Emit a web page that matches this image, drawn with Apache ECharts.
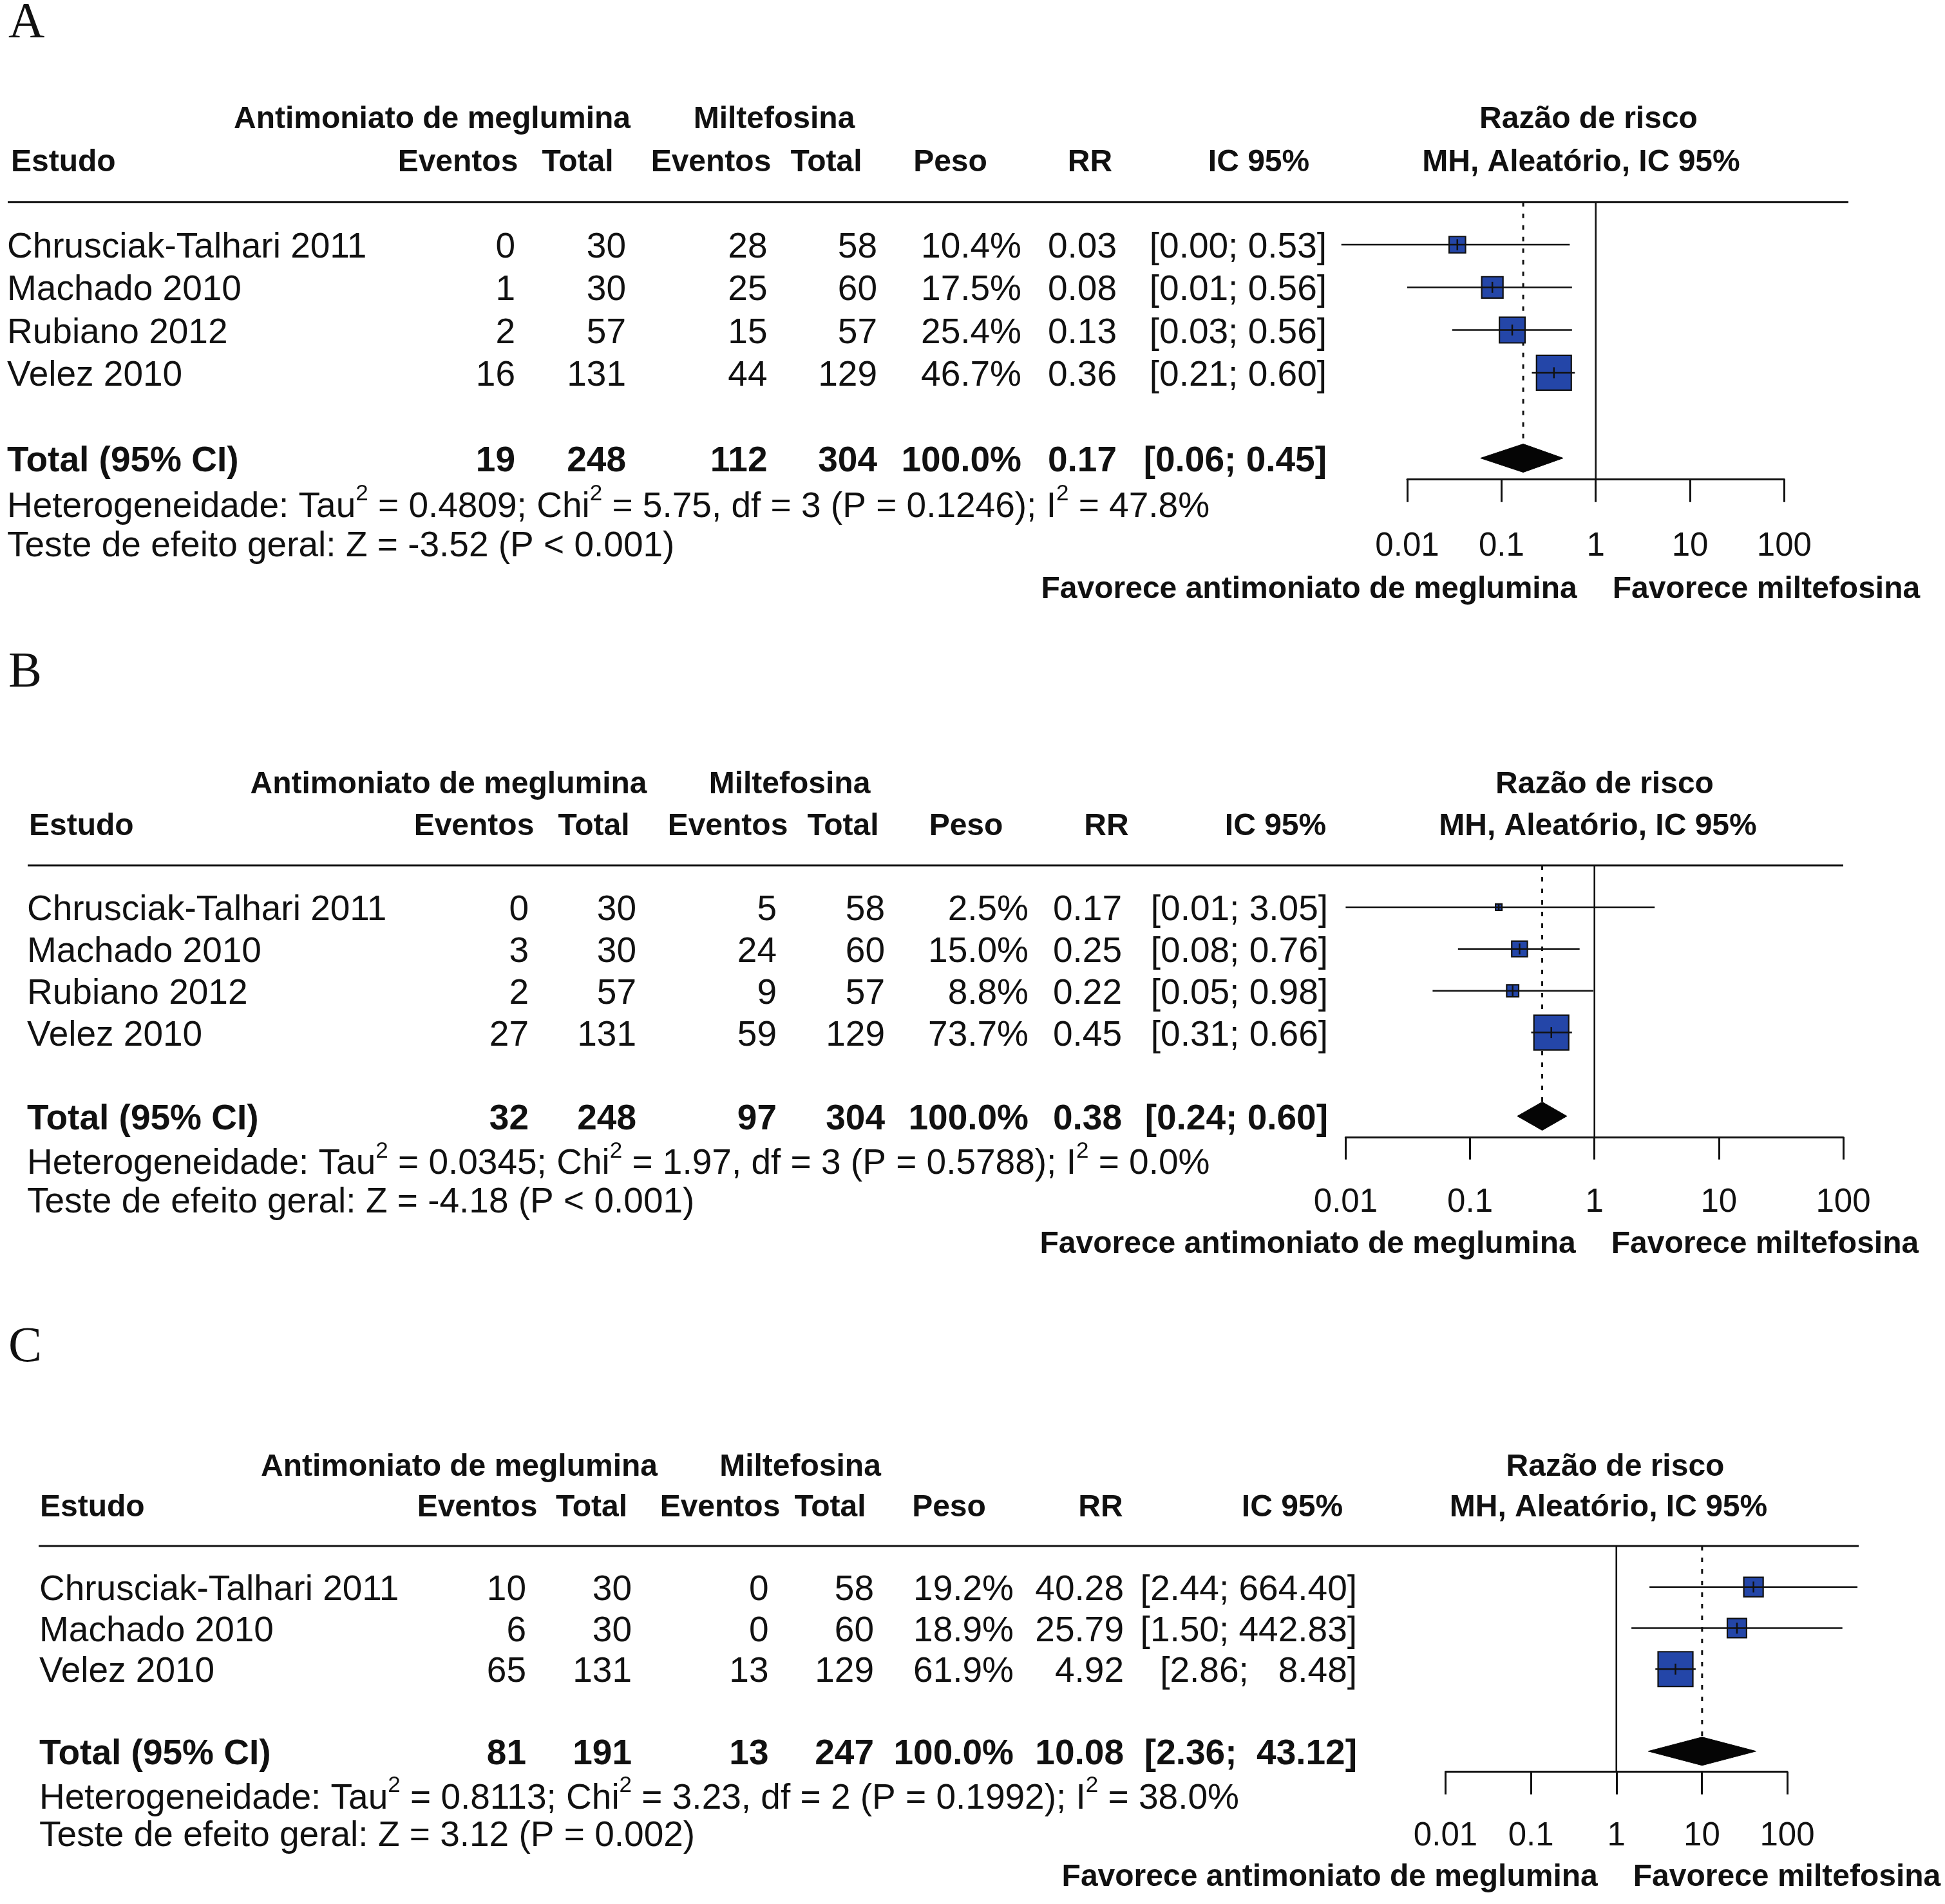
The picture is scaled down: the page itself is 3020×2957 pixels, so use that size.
<!DOCTYPE html>
<html>
<head>
<meta charset="utf-8">
<script src="https://cdn.jsdelivr.net/npm/echarts@6/dist/echarts.min.js"></script>
<style>
html,body{margin:0;padding:0;background:#ffffff;}
#chart{width:3020px;height:2957px;}
</style>
</head>
<body>
<div id="chart"></div>
<script>
// ================= DATA =================
// Panel A
const studiesA   = ['Chrusciak-Talhari 2011', 'Machado 2010', 'Rubiano 2012', 'Velez 2010'];
const eventsAntA = [0, 1, 2, 16];
const totalAntA  = [30, 30, 57, 131];
const eventsMilA = [28, 25, 15, 44];
const totalMilA  = [58, 60, 57, 129];
const weightA    = [10.4, 17.5, 25.4, 46.7];
const rrA        = [0.034, 0.08, 0.13, 0.36];
const lowerA     = [0.002, 0.01, 0.03, 0.21];
const upperA     = [0.53, 0.56, 0.56, 0.60];
const pooledA    = [0.17, 0.06, 0.45];          // RR, lower, upper
const sumsA      = [19, 248, 112, 304];
const hetA       = ['0.4809', '5.75', '3', '0.1246', '47.8%'];  // Tau2, Chi2, df, P, I2
const testA      = ['-3.52', 'P < 0.001'];

// Panel B
const studiesB   = ['Chrusciak-Talhari 2011', 'Machado 2010', 'Rubiano 2012', 'Velez 2010'];
const eventsAntB = [0, 3, 2, 27];
const totalAntB  = [30, 30, 57, 131];
const eventsMilB = [5, 24, 9, 59];
const totalMilB  = [58, 60, 57, 129];
const weightB    = [2.5, 15.0, 8.8, 73.7];
const rrB        = [0.17, 0.25, 0.22, 0.45];
const lowerB     = [0.01, 0.08, 0.05, 0.31];
const upperB     = [3.05, 0.76, 0.98, 0.66];
const pooledB    = [0.38, 0.24, 0.60];
const sumsB      = [32, 248, 97, 304];
const hetB       = ['0.0345', '1.97', '3', '0.5788', '0.0%'];
const testB      = ['-4.18', 'P < 0.001'];

// Panel C
const studiesC   = ['Chrusciak-Talhari 2011', 'Machado 2010', 'Velez 2010'];
const eventsAntC = [10, 6, 65];
const totalAntC  = [30, 30, 131];
const eventsMilC = [0, 0, 13];
const totalMilC  = [58, 60, 129];
const weightC    = [19.2, 18.9, 61.9];
const rrC        = [40.28, 25.79, 4.92];
const lowerC     = [2.44, 1.50, 2.86];
const upperC     = [664.40, 442.83, 8.48];
const pooledC    = [10.08, 2.36, 43.12];
const sumsC      = [81, 191, 13, 247];
const hetC       = ['0.8113', '3.23', '2', '0.1992', '38.0%'];
const testC      = ['3.12', 'P = 0.002'];

// Tick labels and header texts
const tickLabels  = ['0.01', '0.1', '1', '10', '100'];
const colHeaders  = ['Eventos', 'Total', 'Eventos', 'Total', 'Peso', 'RR', 'IC 95%'];
const groupTitles = ['Antimoniato de meglumina', 'Miltefosina'];
const riskTitles  = ['Razão de risco', 'MH, Aleatório, IC 95%'];
const favourTexts = ['Favorece antimoniato de meglumina', 'Favorece miltefosina'];

// ================= LAYOUT (pixels) =================
const layoutA = {letter:'A', letterX:13, letterY:37, top:313.7, row:66.3, left:2185, right:2770.4,
  nameX:11, studyHdrX:17, grpHdr:[671, 1202], riskHdr:[2466.5, 2455],
  colHdr:[711, 897, 1104, 1283, 1475.5, 1692.5, 1954.5],
  colRight:[800, 972, 1191.5, 1362, 1586, 1734, 2060], sep:[12, 2870]};
const layoutB = {letter:'B', letterX:13, letterY:1046, top:1344, row:64.9, left:2089.4, right:2862,
  nameX:42, studyHdrX:45, grpHdr:[696.5, 1226], riskHdr:[2491.5, 2481],
  colHdr:[736, 922, 1130, 1309, 1500, 1718, 1980.5],
  colRight:[821, 988, 1206, 1374, 1597, 1742, 2062], sep:[43, 2862]};
const layoutC = {letter:'C', letterX:13, letterY:2094, top:2401, row:63.75, left:2244.5, right:2775,
  nameX:61, studyHdrX:62, grpHdr:[713, 1242.5], riskHdr:[2508, 2497.5],
  colHdr:[741, 918.5, 1118, 1289, 1473.5, 1709, 2006.5],
  colRight:[817, 981, 1193.5, 1357, 1574, 1745, 2107], sep:[60, 2886]};
const TEXT_DY = 5;   // text centre offset below row line

const panels = [
  {lay:layoutA, studies:studiesA, evA:eventsAntA, totA:totalAntA, evM:eventsMilA, totM:totalMilA,
   w:weightA, rr:rrA, lo:lowerA, hi:upperA, pooled:pooledA, sums:sumsA, het:hetA, test:testA},
  {lay:layoutB, studies:studiesB, evA:eventsAntB, totA:totalAntB, evM:eventsMilB, totM:totalMilB,
   w:weightB, rr:rrB, lo:lowerB, hi:upperB, pooled:pooledB, sums:sumsB, het:hetB, test:testB},
  {lay:layoutC, studies:studiesC, evA:eventsAntC, totA:totalAntC, evM:eventsMilC, totM:totalMilC,
   w:weightC, rr:rrC, lo:lowerC, hi:upperC, pooled:pooledC, sums:sumsC, het:hetC, test:testC}
];

// ================= STYLE =================
const FAM = '"Liberation Sans", Arial, Helvetica, sans-serif';
const fReg = '55px ' + FAM;
const fBold55 = 'bold 55px ' + FAM;
const fBold48 = 'bold 48px ' + FAM;
const fSerif = '78px "Liberation Serif", "Times New Roman", serif';
const INK = '#111111';
const BOX = '#2446A8';

function T(x, y, s, font, align, rich) {
  const st = {text: s, font: font, fill: INK, align: align, textAlign: align,
              verticalAlign: 'middle', textVerticalAlign: 'middle'};
  if (rich) st.rich = rich;
  return {type: 'text', x: x, y: y, style: st, silent: true};
}

function ciText(lo, hi, wLo, wHi) {
  return '[' + lo.toFixed(2).padStart(wLo, ' ') + '; ' + hi.toFixed(2).padStart(wHi, ' ') + ']';
}

const option = {
  animation: false,
  backgroundColor: '#ffffff',
  grid: [], xAxis: [], yAxis: [], series: []
};

panels.forEach(function (P, i) {
  const L = P.lay;
  const n = P.studies.length;
  const yMax = n + 2.5;
  const wMax = Math.max.apply(null, P.w);

  option.grid.push({left: L.left, top: L.top, width: L.right - L.left, height: yMax * L.row,
                    containLabel: false, show: false});
  option.xAxis.push({
    type: 'log', logBase: 10, min: 0.01, max: 100, gridIndex: i,
    axisLine: {show: true, onZero: false, lineStyle: {color: INK, width: 3}},
    axisTick: {show: true, length: 35, lineStyle: {color: INK, width: 3}},
    minorTick: {show: false},
    splitLine: {show: false},
    axisLabel: {
      margin: 1.5 * L.row + TEXT_DY, fontSize: 51, fontFamily: FAM, color: INK, verticalAlign: 'middle',
      formatter: function (v) { return tickLabels[Math.round(Math.log10(v)) + 2]; }
    }
  });
  option.yAxis.push({type: 'value', gridIndex: i, min: 0, max: yMax, inverse: true, show: false});

  // Reference lines and pooled diamond
  option.series.push({
    type: 'custom', xAxisIndex: i, yAxisIndex: i, clip: false, silent: true, z: 2,
    data: [[P.pooled[0], n + 2, P.pooled[1], P.pooled[2]]],
    encode: {x: 0, y: 1},
    renderItem: function (params, api) {
      const rr = api.value(0), row = api.value(1), lo = api.value(2), hi = api.value(3);
      const c = api.coord([rr, row]);
      const l = api.coord([lo, row]);
      const h = api.coord([hi, row]);
      const top1 = api.coord([1, 0]);
      const bot1 = api.coord([1, yMax]);
      const topR = api.coord([rr, 0]);
      const half = 22;
      return {type: 'group', children: [
        {type: 'line', shape: {x1: top1[0], y1: top1[1], x2: bot1[0], y2: bot1[1]},
         style: {stroke: INK, lineWidth: 2.6}},
        {type: 'line', shape: {x1: topR[0], y1: topR[1], x2: c[0], y2: c[1] - half},
         style: {stroke: INK, lineWidth: 3, lineDash: [7, 11]}},
        {type: 'polygon', shape: {points: [[l[0], c[1]], [c[0], c[1] - half], [h[0], c[1]], [c[0], c[1] + half]]},
         style: {fill: '#050505', stroke: '#050505', lineWidth: 1}}
      ]};
    }
  });

  // Study boxes and confidence intervals
  option.series.push({
    type: 'custom', xAxisIndex: i, yAxisIndex: i, clip: false, silent: true, z: 3,
    data: P.rr.map(function (r, k) { return [r, k + 1, P.lo[k], P.hi[k], P.w[k]]; }),
    encode: {x: 0, y: 1},
    renderItem: function (params, api) {
      const rr = api.value(0), row = api.value(1), lo = api.value(2), hi = api.value(3), w = api.value(4);
      const c = api.coord([rr, row]);
      const l = api.coord([lo, row]);
      const h = api.coord([hi, row]);
      const s = 54 * Math.sqrt(w / wMax);
      const t = Math.min(17, s) / 2;
      return {type: 'group', children: [
        {type: 'rect', shape: {x: c[0] - s / 2, y: c[1] - s / 2, width: s, height: s},
         style: {fill: BOX, stroke: INK, lineWidth: 2.2}},
        {type: 'line', shape: {x1: l[0], y1: l[1], x2: h[0], y2: h[1]},
         style: {stroke: INK, lineWidth: 2.5}},
        {type: 'line', shape: {x1: c[0], y1: c[1] - t, x2: c[0], y2: c[1] + t},
         style: {stroke: INK, lineWidth: 2.5}}
      ]};
    }
  });

  // Table text
  option.series.push({
    type: 'custom', xAxisIndex: i, yAxisIndex: i, clip: false, silent: true, z: 4,
    data: [[1, 0]],
    encode: {x: 0, y: 1},
    renderItem: function (params, api) {
      const Y = function (r) { return api.coord([1, r])[1] + TEXT_DY; };
      const x1 = api.coord([1, 0])[0];
      const ch = [];
      ch.push(T(L.letterX, L.letterY, L.letter, fSerif, 'left'));
      ch.push(T(L.grpHdr[0], Y(-2), groupTitles[0], fBold48, 'center'));
      ch.push(T(L.grpHdr[1], Y(-2), groupTitles[1], fBold48, 'center'));
      ch.push(T(L.riskHdr[0], Y(-2), riskTitles[0], fBold48, 'center'));
      ch.push(T(L.studyHdrX, Y(-1), 'Estudo', fBold48, 'left'));
      colHeaders.forEach(function (hd, k) { ch.push(T(L.colHdr[k], Y(-1), hd, fBold48, 'center')); });
      ch.push(T(L.riskHdr[1], Y(-1), riskTitles[1], fBold48, 'center'));
      const ySep = api.coord([1, 0])[1];
      ch.push({type: 'line', shape: {x1: L.sep[0], y1: ySep, x2: L.sep[1], y2: ySep},
               style: {stroke: INK, lineWidth: 3}, silent: true});

      const allLo = P.lo.concat([P.pooled[1]]).map(function (v) { return v.toFixed(2).length; });
      const allHi = P.hi.concat([P.pooled[2]]).map(function (v) { return v.toFixed(2).length; });
      const wLo = Math.max.apply(null, allLo), wHi = Math.max.apply(null, allHi);

      for (let k = 0; k < n; k++) {
        const y = Y(k + 1);
        ch.push(T(L.nameX, y, P.studies[k], fReg, 'left'));
        const vals = [String(P.evA[k]), String(P.totA[k]), String(P.evM[k]), String(P.totM[k]),
                      P.w[k].toFixed(1) + '%', P.rr[k].toFixed(2), ciText(P.lo[k], P.hi[k], wLo, wHi)];
        vals.forEach(function (v, j) { ch.push(T(L.colRight[j], y, v, fReg, 'right')); });
      }
      const yt = Y(n + 2);
      ch.push(T(L.nameX, yt, 'Total (95% CI)', fBold55, 'left'));
      const tv = [String(P.sums[0]), String(P.sums[1]), String(P.sums[2]), String(P.sums[3]),
                  '100.0%', P.pooled[0].toFixed(2), ciText(P.pooled[1], P.pooled[2], wLo, wHi)];
      tv.forEach(function (v, j) { ch.push(T(L.colRight[j], yt, v, fBold55, 'right')); });

      const het = 'Heterogeneidade: Tau{s|2} = ' + P.het[0] + '; Chi{s|2} = ' + P.het[1] +
                  ', df = ' + P.het[2] + ' (P = ' + P.het[3] + '); I{s|2} = ' + P.het[4];
      ch.push(T(L.nameX, Y(n + 3) + 5, het, fReg, 'left',
                {s: {font: '35px ' + FAM, fill: INK, padding: [0, 0, 40, 0], lineHeight: 66}}));
      ch.push(T(L.nameX, Y(n + 4), 'Teste de efeito geral: Z = ' + P.test[0] + ' (' + P.test[1] + ')', fReg, 'left'));

      ch.push(T(x1 - 29, Y(n + 5), favourTexts[0], fBold48, 'right'));
      ch.push(T(x1 + 26, Y(n + 5), favourTexts[1], fBold48, 'left'));
      return {type: 'group', children: ch};
    }
  });
});

const chart = echarts.init(document.getElementById('chart'), null, {renderer: 'canvas'});
chart.setOption(option);
</script>
</body>
</html>
